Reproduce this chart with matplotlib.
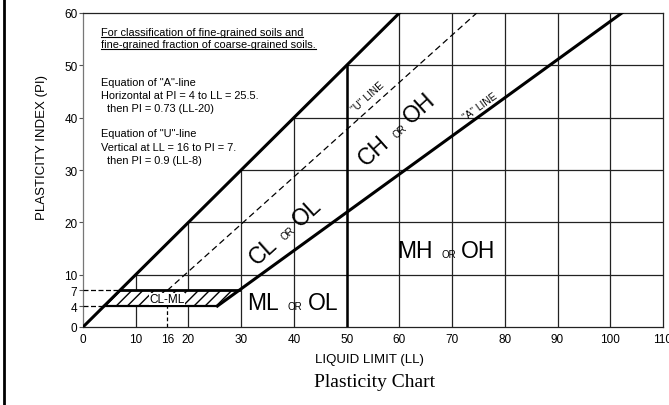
import matplotlib
matplotlib.use("Agg")
import numpy as np
import matplotlib.pyplot as plt
from matplotlib.lines import Line2D
from matplotlib.patches import Polygon

plt.rcParams['font.family'] = ['Liberation Sans', 'DejaVu Sans']

# axis ticks
x_ticks = [0, 10, 16, 20, 30, 40, 50, 60, 70, 80, 90, 100, 110]
y_ticks = [0, 4, 7, 10, 20, 30, 40, 50, 60]
grid_steps = [10, 20, 30, 40, 50, 60, 70, 80, 90, 100]

LL_MAX = 110
PI_MAX = 60

# "A"-line: horizontal at PI = 4 to LL = 25.5, then PI = 0.73 (LL-20)
A_SLOPE, A_ZERO = 0.73, 20
A_PI_LOW, A_LL_START = 4, 25.5
# "U"-line: vertical at LL = 16 to PI = 7, then PI = 0.9 (LL-8)
U_SLOPE, U_ZERO = 0.9, 8
U_LL_START, U_PI_LOW = 16, 7

def a_line(ll):
    return A_SLOPE * (ll - A_ZERO)

def a_line_ll(pi):
    return pi / A_SLOPE + A_ZERO

def u_line_ll(pi):
    return pi / U_SLOPE + U_ZERO


fig = plt.figure(figsize=(6.69, 4.06), dpi=100)
ax = fig.add_axes([83 / 669, 1 - 328 / 406, 580 / 669, 314 / 406])
ax.set_xlim(0, LL_MAX)
ax.set_ylim(0, PI_MAX)

grid_kw = dict(color='#222222', lw=0.9, zorder=1)
# grid only below the PI = LL boundary
for v in grid_steps:
    ax.plot([v, v], [0, min(v, PI_MAX)], **grid_kw)
for h in grid_steps:
    if h < PI_MAX:
        ax.plot([h, LL_MAX], [h, h], **grid_kw)

# upper boundary PI = LL
ax.plot([0, PI_MAX], [0, PI_MAX], color='black', lw=2.2, zorder=3)
# LL = 50 separator
ax.plot([50, 50], [0, 50], color='black', lw=1.8, zorder=3)

# A-line
ax.plot([A_LL_START, a_line_ll(PI_MAX)], [a_line(A_LL_START), PI_MAX],
        color='black', lw=2.2, zorder=3)

# U-line
ax.plot([U_LL_START, u_line_ll(PI_MAX)], [U_PI_LOW, PI_MAX],
        color='black', lw=0.9, ls=(0, (5, 3)), zorder=3)
ax.plot([U_LL_START, U_LL_START], [0, A_PI_LOW],
        color='black', lw=0.9, ls=(0, (3, 2)), zorder=3)

# CL-ML band between PI = 4 and PI = 7
band = [(A_PI_LOW, A_PI_LOW), (a_line_ll(A_PI_LOW), A_PI_LOW),
        (a_line_ll(U_PI_LOW), U_PI_LOW), (U_PI_LOW, U_PI_LOW)]
ax.add_patch(Polygon(band, closed=True, facecolor='white', edgecolor='black',
                     hatch='///', lw=0, zorder=2))
ax.plot([U_PI_LOW, a_line_ll(U_PI_LOW)], [U_PI_LOW, U_PI_LOW], color='black', lw=2.0, zorder=3)
ax.plot([A_PI_LOW, a_line_ll(A_PI_LOW)], [A_PI_LOW, A_PI_LOW], color='black', lw=1.6, zorder=3)
ax.plot([0, U_PI_LOW], [U_PI_LOW, U_PI_LOW], color='black', lw=0.9, ls=(0, (4, 2)), zorder=3)
ax.plot([0, A_PI_LOW], [A_PI_LOW, A_PI_LOW], color='black', lw=0.9, ls=(0, (4, 2)), zorder=3)

ax.text(15.9, 5.4, 'CL-ML', fontsize=8.5, ha='center', va='center', zorder=4,
        bbox=dict(facecolor='white', edgecolor='none', pad=0.2))


def zone_text(x, y, left, right, rot=0, size=16.5, gap_l=11.5, gap_r=9.0):
    # two big symbols with a small "OR" centred between them
    c, s = np.cos(np.radians(rot)), np.sin(np.radians(rot))
    common = dict(xycoords='data', textcoords='offset points', rotation=rot,
                  rotation_mode='anchor', va='baseline', zorder=4)
    ax.annotate(left, (x, y), xytext=(-gap_l * c, -gap_l * s), fontsize=size,
                ha='right', **common)
    ax.annotate('OR', (x, y), xytext=(0, 0), fontsize=7, ha='center', **common)
    ax.annotate(right, (x, y), xytext=(gap_r * c, gap_r * s), fontsize=size,
                ha='left', **common)


zone_text(40.2, 3.4, 'ML', 'OL')
zone_text(69.3, 13.4, 'MH', 'OH')
zone_text(39.3, 17.6, 'CL', 'OL', rot=42)
zone_text(60.5, 37.1, 'CH', 'OH', rot=42)

ax.text(54.6, 43.3, '"U" LINE', fontsize=7.3, rotation=42, rotation_mode='anchor',
        ha='center', va='bottom', zorder=4)
ax.text(75.9, 41.4, '"A" LINE', fontsize=7.3, rotation=36, rotation_mode='anchor',
        ha='center', va='bottom', zorder=4)

# notes
note_lines = ['For classification of fine-grained soils and',
              'fine-grained fraction of coarse-grained soils.']
note_y = [55.8, 53.5]
eq_lines = ['Equation of "A"-line',
            'Horizontal at PI = 4 to LL = 25.5.',
            '  then PI = 0.73 (LL-20)',
            'Equation of "U"-line',
            'Vertical at LL = 16 to PI = 7.',
            '  then PI = 0.9 (LL-8)']
eq_y = [46.2, 43.8, 41.3, 36.5, 33.8, 31.3]

note_texts = []
for line, y in zip(note_lines, note_y):
    t = ax.text(3.4, y, line, fontsize=7.9, ha='left', va='baseline', zorder=4)
    note_texts.append(t)
for line, y in zip(eq_lines, eq_y):
    ax.text(3.4, y, line, fontsize=7.9, ha='left', va='baseline', zorder=4)

# ticks and labels
ax.set_xticks(x_ticks)
ax.set_yticks(y_ticks)
ax.tick_params(axis='x', length=0, pad=4, labelsize=8.5)
ax.tick_params(axis='y', length=3, width=0.8, pad=1, labelsize=8.5, color='#555555')
for s in ax.spines.values():
    s.set_linewidth(0.9)
    s.set_color('#222222')
ax.spines['left'].set_color('#777777')

fig.text(369 / 669, 1 - 360 / 406, 'LIQUID LIMIT (LL)', fontsize=9.5,
         ha='center', va='center')
fig.text(42 / 669, 1 - 147.5 / 406, 'PLASTICITY INDEX (PI)', fontsize=9.5,
         rotation=90, ha='center', va='center')
fig.text(375 / 669, 1 - 383 / 406, 'Plasticity Chart', fontsize=14,
         family=['Liberation Serif', 'DejaVu Serif'], ha='center', va='center')

# frame line along the left edge
fig.add_artist(Line2D([4 / 669, 4 / 669], [0, 1], color='black', lw=2.0))

# underline the note lines
fig.canvas.draw()
renderer = fig.canvas.get_renderer()
inv = fig.transFigure.inverted()
for t in note_texts:
    bb = t.get_window_extent(renderer)
    x0, _ = inv.transform((bb.x0, 0))
    x1, _ = inv.transform((bb.x1, 0))
    _, yb = inv.transform(ax.transData.transform(t.get_position()))
    yb -= 2.0 / 406
    fig.add_artist(Line2D([x0, x1], [yb, yb], color='black', lw=0.8))

fig.savefig('out.png', dpi=100)
